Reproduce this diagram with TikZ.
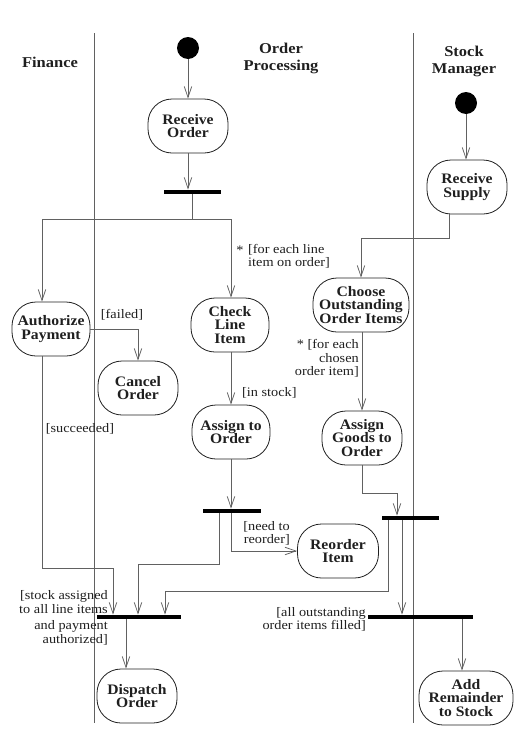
\documentclass[tikz,border=0pt]{standalone}
\usepackage{fontspec}
\setmainfont{Liberation Serif}[FakeStretch=1.1]
\newfontfamily\actfont{Liberation Serif}[FakeStretch=1.08]
\usetikzlibrary{arrows.meta}
\definecolor{ink}{gray}{0.12}
\definecolor{wirec}{gray}{0.38}
\tikzset{
  act/.style={draw=ink, line width=0.8pt, rounded corners=24pt, minimum width=80pt,
    minimum height=54pt, align=center, font=\actfont\bfseries\fontsize{14.5}{13.5}\selectfont,
    text=ink, inner sep=1pt},
  syncbar/.style={fill=black, minimum height=4.5pt, inner sep=0pt},
  startdot/.style={circle, fill=black, minimum size=22pt, inner sep=0pt},
  wire/.style={draw=wirec, line width=0.75pt},
  flow/.style={wire, -{Straight Barb[length=11pt,width=7.5pt,line width=0.75pt]}},
  guard/.style={font=\fontsize{13}{13.5}\selectfont, text=ink, inner sep=0pt},
  lane/.style={draw=wirec, line width=0.8pt},
  lanetitle/.style={font=\bfseries\fontsize{15}{17}\selectfont, align=center, text=ink, inner sep=0pt}
}
\begin{document}
\begin{tikzpicture}[x=1pt,y=-1pt]
\useasboundingbox (0,0) rectangle (531,734);
% swimlanes
\coordinate (l1t) at (94,33);  \coordinate (l1b) at (94,723);
\coordinate (l2t) at (413,33); \coordinate (l2b) at (413,723);
\draw[lane] (l1t) -- (l1b);
\draw[lane] (l2t) -- (l2b);
\node[lanetitle] (tfin) at (50,62) {Finance};
\node[lanetitle] (tord) at (281,58.5) {Order\\Processing};
\node[lanetitle] (tstk) at (464,61.5) {Stock\\Manager};

% start points
\node[startdot] (start1) at (188,48) {};
\node[startdot] (start2) at (466,103) {};

% activities
\node[act] (recvOrder) at (188,126) {Receive\\Order};
\node[act] (recvSupply) at (467,187) {Receive\\Supply};
\node[act, minimum width=78pt] (auth) at (51,329) {Authorize\\Payment};
\node[act] (cancel) at (138,388) {Cancel\\Order};
\node[act, minimum width=78pt] (check) at (230,325) {Check\\Line\\Item};
\node[act, minimum width=78pt] (assignOrder) at (231,432) {Assign to\\Order};
\node[act, minimum width=96pt] (choose) at (361,305) {Choose\\Outstanding\\Order Items};
\node[act] (assignGoods) at (362,438) {Assign\\Goods to\\Order};
\node[act, minimum width=81pt] (reorder) at (338,551) {Reorder\\Item};
\node[act] (dispatch) at (137,696) {Dispatch\\Order};
\node[act, minimum width=94pt] (addRem) at (466,698) {Add\\Remainder\\to Stock};

% synchronisation bars
\node[syncbar, minimum width=57pt] (bar1) at (192.5,192) {};
\node[syncbar, minimum width=58pt] (bar2) at (232,511) {};
\node[syncbar, minimum width=57pt] (bar3) at (410.5,518) {};
\node[syncbar, minimum width=84pt] (bar4) at (139,617) {};
\node[syncbar, minimum width=105pt] (bar5) at (420.5,617) {};

% junction coordinates
\coordinate (s1) at (192,219);
\coordinate (fa) at (42,219);
\coordinate (fc) at (231,219);
\coordinate (k1) at (449,238);
\coordinate (k2) at (361,238);
\coordinate (a1) at (42,568);
\coordinate (a2) at (113,568);
\coordinate (b1) at (219,564);
\coordinate (b2) at (138,564);
\coordinate (r1) at (231,551);
\coordinate (g1) at (362,493);
\coordinate (g2) at (397,493);
\coordinate (h1) at (388,591);
\coordinate (h2) at (165,591);
\coordinate (h3) at (402,591);
\coordinate (d1) at (126,640);
\coordinate (e1) at (462,640);

% connectors
\draw[flow] (start1) -- (recvOrder.north);
\draw[flow] (recvOrder.south) -- (recvOrder.south |- bar1.north);
\draw[wire] (bar1.south -| s1) -- (s1);
\draw[flow] (s1) -- (fa) -- (fa |- auth.north);
\draw[flow] (s1) -- (fc) -- (fc |- check.north);
\draw[flow] (start2) -- (recvSupply.north -| start2);
\draw[flow] (recvSupply.south -| k1) -- (k1) -- (k2) -- (k2 |- choose.north);
\draw[flow] (auth.east) -| (cancel.north);
\draw[flow] (fa |- auth.south) -- (a1) -- (a2) -- (a2 |- bar4.north);
\draw[flow] (check.south -| fc) -- (fc |- assignOrder.north);
\draw[flow] (assignOrder.south -| fc) -- (fc |- bar2.north);
\draw[flow] (bar2.south -| b1) -- (b1) -- (b2) -- (b2 |- bar4.north);
\draw[flow] (bar2.south -| r1) -- (r1) -- (reorder.west |- r1);
\draw[flow] (choose.south -| g1) -- (g1 |- assignGoods.north);
\draw[flow] (assignGoods.south -| g1) -- (g1) -- (g2) -- (g2 |- bar3.north);
\draw[flow] (bar3.south -| h1) -- (h1) -- (h2) -- (h2 |- bar4.north);
\draw[flow] (bar3.south -| h3) -- (h3 |- bar5.north);
\draw[flow] (bar4.south -| d1) -- (d1 |- dispatch.north);
\draw[flow] (bar5.south -| e1) -- (e1 |- addRem.north);

% guards
\node[guard] (gstar1) at (240,250) {*};
\node[guard, anchor=west, align=left] (gline) at (248,256.5) {[for each line\\item on order]};
\node[guard] (gfail) at (122,315) {[failed]};
\node[guard] (gsucc) at (80,429) {[succeeded]};
\node[guard, anchor=west] (gstock) at (242,393) {[in stock]};
\node[guard, anchor=east, align=right] (gchosen) at (359,358.5) {* [for each\\chosen\\order item]};
\node[guard, anchor=east, align=right] (gneed) at (290,533.5) {[need to\\reorder]};
\node[guard, anchor=east, align=right] (gall1) at (108,602) {[stock assigned\\to all line items};
\node[guard, anchor=east, align=right] (gall2) at (108,633) {and payment\\authorized]};
\node[guard, anchor=east, align=right] (gfill) at (366,619.5) {[all outstanding\\order items filled]};
\end{tikzpicture}
\end{document}
